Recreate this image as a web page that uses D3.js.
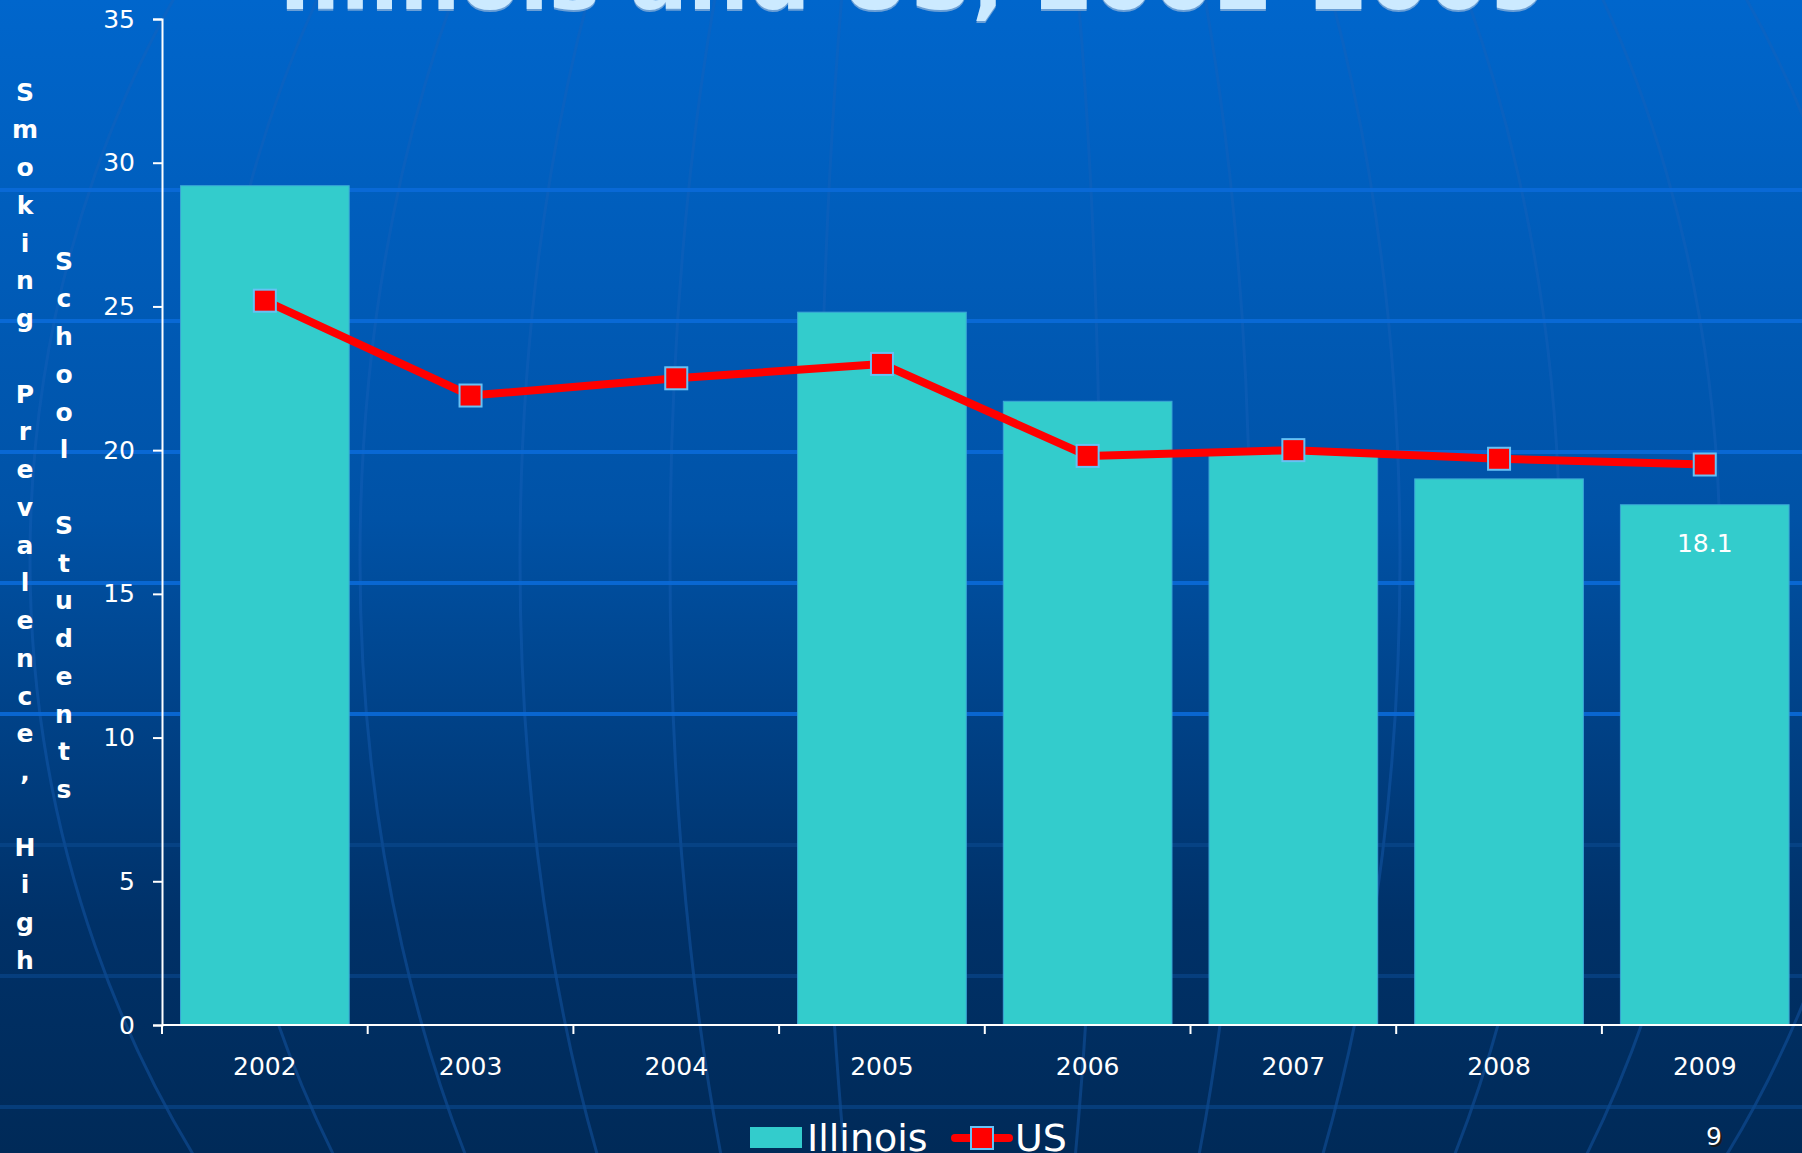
<!DOCTYPE html>
<html>
<head>
<meta charset="utf-8">
<script src="https://cdn.jsdelivr.net/npm/d3@7"></script>
<style>
    body { margin: 0; background: #002b5a; overflow: hidden; }
    svg { display: block; }
    .axis text { font-family: Verdana, "DejaVu Sans", sans-serif; font-size: 25px; fill: #ffffff; }
    .axis line, .axis path { stroke: #ffffff; stroke-width: 2px; }
</style>
</head>
<body>
<div id="chart"></div>
<script>
// Data
const years = ["2002", "2003", "2004", "2005", "2006", "2007", "2008", "2009"];
const illinois = [29.2, null, null, 24.8, 21.7, 19.9, 19.0, 18.1];
const us = [25.2, 21.9, 22.5, 23.0, 19.8, 20.0, 19.7, 19.5];
const yTicks = [0, 5, 10, 15, 20, 25, 30, 35];
const titleText = "Illinois and US, 2002-2009";
const yLabelLines = ["Smoking Prevalence, High", "School Students"];
const seriesNames = ["Illinois", "US"];

const W = 1802, H = 1153;
const margin = {left: 162, top: 19, bottom: 128};

const svg = d3.select("#chart")
    .append("svg")
    .attr("width", W)
    .attr("height", H);

// Background gradient
const defs = svg.append("defs");
const grad = defs.append("linearGradient")
    .attr("id", "bg")
    .attr("x1", "0%").attr("y1", "0%")
    .attr("x2", "0%").attr("y2", "100%");
grad.append("stop").attr("offset", "0%").attr("stop-color", "#0066cc");
grad.append("stop").attr("offset", "45%").attr("stop-color", "#0052a6");
grad.append("stop").attr("offset", "80%").attr("stop-color", "#003168");
grad.append("stop").attr("offset", "100%").attr("stop-color", "#002a58");

svg.append("rect")
    .attr("width", W)
    .attr("height", H)
    .attr("fill", "url(#bg)");

// Globe meridians, faint decoration
const deco = svg.append("g").attr("fill", "none");
[140, 290, 440, 600, 760, 930].forEach(function (rx) {
    deco.append("ellipse")
        .attr("cx", 960)
        .attr("cy", 560)
        .attr("rx", rx)
        .attr("ry", 1050)
        .attr("stroke", "#1a62b8")
        .attr("stroke-opacity", 0.4)
        .attr("stroke-width", 3);
});

// Horizontal background lines
[190, 321, 452, 583, 714, 845, 976, 1107].forEach(function (y, i) {
    deco.append("line")
        .attr("x1", 0).attr("x2", W)
        .attr("y1", y).attr("y2", y)
        .attr("stroke", i < 5 ? "#0a6ad8" : "#0a4a90")
        .attr("stroke-width", 4)
        .attr("stroke-opacity", i < 5 ? 0.9 : 0.6);
});

// Title (cut off at top)
svg.append("text")
    .attr("x", 279).attr("y", 11)
    .attr("textLength", 1269)
    .attr("lengthAdjust", "spacingAndGlyphs")
    .attr("font-family", "'DejaVu Sans', sans-serif")
    .attr("font-weight", "bold")
    .attr("font-size", 84)
    .attr("fill", "#6a9fd6")
    .text(titleText);
svg.append("text")
    .attr("x", 279).attr("y", 9)
    .attr("textLength", 1269)
    .attr("lengthAdjust", "spacingAndGlyphs")
    .attr("font-family", "'DejaVu Sans', sans-serif")
    .attr("font-weight", "bold")
    .attr("font-size", 84)
    .attr("fill", "#cceaff")
    .text(titleText);

// Scales
const x = d3.scaleBand()
    .domain(years)
    .range([margin.left, margin.left + 8 * 205.7])
    .paddingInner(0.18)
    .paddingOuter(0.09);

const y = d3.scaleLinear()
    .domain([0, 35])
    .range([H - margin.bottom, margin.top]);

// Bars
svg.append("g")
    .selectAll("rect")
    .data(years.map((d, i) => ({year: d, value: illinois[i]})).filter(d => d.value !== null))
    .enter()
    .append("rect")
    .attr("x", d => x(d.year))
    .attr("y", d => y(d.value))
    .attr("width", x.bandwidth())
    .attr("height", d => y(0) - y(d.value))
    .attr("fill", "#33cccc")
    .attr("stroke", "#3aa6d6")
    .attr("stroke-width", 1);

// 18.1 data label
svg.append("text")
    .attr("x", x("2009") + x.bandwidth() / 2)
    .attr("y", y(illinois[7]) + 39)
    .attr("text-anchor", "middle")
    .attr("dominant-baseline", "central")
    .attr("font-family", "Verdana, 'DejaVu Sans', sans-serif")
    .attr("font-size", 25)
    .attr("fill", "#ffffff")
    .text(illinois[7]);

// Axes
const yAxis = d3.axisLeft(y).tickValues(yTicks).tickSize(9).tickPadding(18);
svg.append("g")
    .attr("class", "y axis")
    .attr("transform", "translate(" + margin.left + ",0)")
    .call(yAxis);

const xAxis = d3.axisBottom(x).tickSize(0).tickPadding(32);
const gx = svg.append("g")
    .attr("class", "x axis")
    .attr("transform", "translate(0," + y(0) + ")")
    .call(xAxis);
gx.select(".domain").attr("d", "M" + margin.left + ",0H" + (margin.left + 8 * 205.7));

// ticks between categories
gx.selectAll(".sep")
    .data(years)
    .enter()
    .append("line")
    .attr("class", "sep")
    .attr("x1", d => x(d) - x.step() * x.paddingInner() / 2)
    .attr("x2", d => x(d) - x.step() * x.paddingInner() / 2)
    .attr("y1", 0)
    .attr("y2", 9);

// US line
const line = d3.line()
    .x((d, i) => x(years[i]) + x.bandwidth() / 2)
    .y(d => y(d));

svg.append("path")
    .datum(us)
    .attr("d", line)
    .attr("fill", "none")
    .attr("stroke", "#ff0000")
    .attr("stroke-width", 8)
    .attr("stroke-linejoin", "round");

svg.append("g")
    .selectAll("rect")
    .data(us)
    .enter()
    .append("rect")
    .attr("x", (d, i) => x(years[i]) + x.bandwidth() / 2 - 11)
    .attr("y", d => y(d) - 11)
    .attr("width", 22)
    .attr("height", 22)
    .attr("fill", "#ff0000")
    .attr("stroke", "#66c2f5")
    .attr("stroke-width", 2);

// Y label, stacked letters in two columns
const yLabel = svg.append("g")
    .attr("font-family", "Verdana, 'DejaVu Sans', sans-serif")
    .attr("font-weight", "bold")
    .attr("font-size", 25)
    .attr("fill", "#ffffff")
    .attr("text-anchor", "middle");
[{text: yLabelLines[0], cx: 25, start: 92}, {text: yLabelLines[1], cx: 64, start: 261}].forEach(function (col) {
    col.text.split("").forEach(function (ch, i) {
        yLabel.append("text")
            .attr("x", col.cx)
            .attr("y", col.start + i * 37.75)
            .attr("dominant-baseline", "central")
            .text(ch);
    });
});

// Legend
const legend = svg.append("g")
    .attr("font-family", "Verdana, 'DejaVu Sans', sans-serif")
    .attr("font-size", 38)
    .attr("fill", "#ffffff");
legend.append("rect")
    .attr("x", 750).attr("y", 1127)
    .attr("width", 52).attr("height", 21)
    .attr("fill", "#33cccc");
legend.append("text")
    .attr("x", 807).attr("y", 1151)
    .text(seriesNames[0]);
legend.append("line")
    .attr("x1", 955).attr("x2", 1009)
    .attr("y1", 1138).attr("y2", 1138)
    .attr("stroke", "#ff0000")
    .attr("stroke-width", 8)
    .attr("stroke-linecap", "round");
legend.append("rect")
    .attr("x", 971).attr("y", 1127)
    .attr("width", 22).attr("height", 22)
    .attr("fill", "#ff0000")
    .attr("stroke", "#66c2f5")
    .attr("stroke-width", 2);
legend.append("text")
    .attr("x", 1015).attr("y", 1151)
    .text(seriesNames[1]);

// Page number
svg.append("text")
    .attr("x", 1716).attr("y", 1138)
    .attr("text-anchor", "middle")
    .attr("dominant-baseline", "central")
    .attr("font-family", "Verdana, 'DejaVu Sans', sans-serif")
    .attr("font-size", 25)
    .attr("fill", "#1a1a1a")
    .text("9");
svg.append("text")
    .attr("x", 1714).attr("y", 1136)
    .attr("text-anchor", "middle")
    .attr("dominant-baseline", "central")
    .attr("font-family", "Verdana, 'DejaVu Sans', sans-serif")
    .attr("font-size", 25)
    .attr("fill", "#ffffff")
    .text("9");
</script>
</body>
</html>
